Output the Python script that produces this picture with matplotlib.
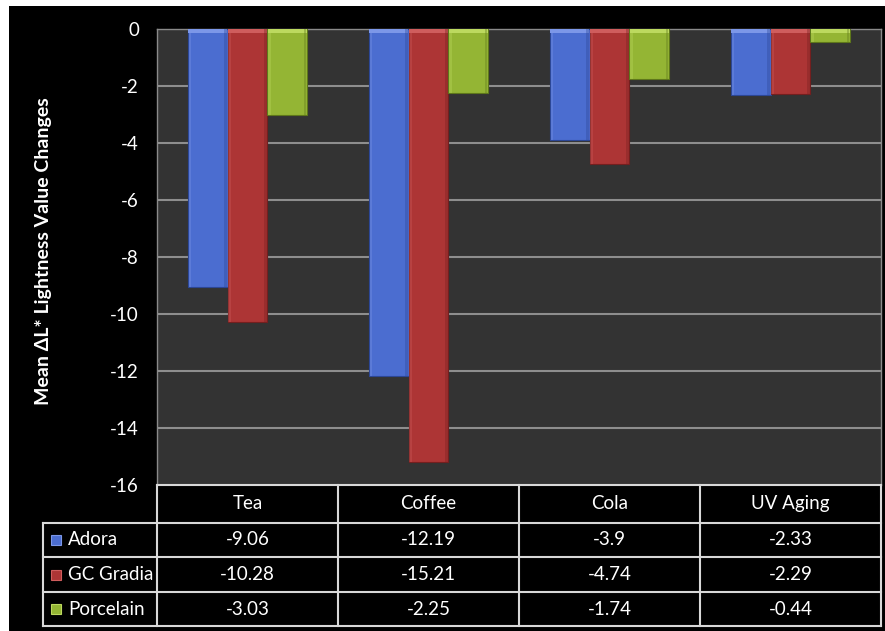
import matplotlib.pyplot as plt
import matplotlib.transforms as mtransforms
from matplotlib.patches import Rectangle
import numpy as np

categorias = ['Tea', 'Coffee', 'Cola', 'UV Aging']
series = ['Adora', 'GC Gradia', 'Porcelain']
adora = [-9.06, -12.19, -3.9, -2.33]
gc_gradia = [-10.28, -15.21, -4.74, -2.29]
porcelain = [-3.03, -2.25, -1.74, -0.44]
yticks = [0, -2, -4, -6, -8, -10, -12, -14, -16]

valores = [adora, gc_gradia, porcelain]
cores = ['#4b6dd0', '#ad3535', '#94b534']
claras = ['#7c97e8', '#cf5d5d', '#bcd95f']
escuras = ['#2c4796', '#741f1f', '#5e771b']

plt.rcParams['font.family'] = ['Lato', 'DejaVu Sans']

fig = plt.figure(figsize=(8.85, 6.31), dpi=100)
fig.patch.set_facecolor('white')
# fundo preto (com a margem branca no topo e à esquerda)
fig.add_artist(Rectangle((9/885, 0), 1 - 9/885, 1 - 6/631, transform=fig.transFigure,
                         facecolor='black', edgecolor='none', zorder=0))

ax = fig.add_axes([157/885, 146/631, 724/885, 456/631])
ax.set_facecolor('#333333')
ax.set_xlim(-0.5, 3.5)
ax.set_ylim(-16, 0)
ax.set_yticks(yticks)
ax.set_yticklabels([str(t) for t in yticks])
ax.set_xticks([])
ax.tick_params(axis='y', length=0, pad=13, colors='white', labelsize=13.5)
for s in ax.spines.values():
    s.set_color('#8a8a8a')
    s.set_linewidth(1)
ax.spines['bottom'].set_visible(False)
for t in yticks[1:-1]:
    ax.axhline(t, color='#8e8e8e', linewidth=1.5, zorder=1)

x = np.arange(len(categorias))
largura = 0.22
offsets = [-largura, 0, largura]

# barras com um "chanfro" simples em cima
for j in range(3):
    xs = x + offsets[j]
    ax.bar(xs, valores[j], largura, color=cores[j], edgecolor=escuras[j], linewidth=0.8, zorder=3)
    topo = [max(v, -0.15) for v in valores[j]]
    ax.bar(xs, topo, largura * 0.97, color=claras[j], linewidth=0, zorder=4)
    ax.bar(xs - largura * 0.45, valores[j], largura * 0.06, color=claras[j], alpha=0.35, linewidth=0, zorder=4)
    ax.bar(xs + largura * 0.45, valores[j], largura * 0.06, color=escuras[j], alpha=0.35, linewidth=0, zorder=4)

ax.set_ylabel('Mean ΔL* Lightness Value Changes', color='white', fontweight='bold', fontsize=14)
ax.yaxis.set_label_coords((52 - 157) / 724, 0.513)

# tabela de dados embaixo
trans = mtransforms.blended_transform_factory(ax.transData, ax.transAxes)
linhas_y = [0, -0.083, -0.158, -0.235, -0.309]
x_esq = -1.13
cor_linha = '#d8d8d8'
kw = dict(color=cor_linha, linewidth=1.5, transform=trans, clip_on=False, zorder=5)

ax.plot([-0.5, 3.5], [0, 0], **kw)
for yy in linhas_y[1:]:
    ax.plot([x_esq, 3.5], [yy, yy], **kw)
for xx in [-0.5, 0.5, 1.5, 2.5, 3.5]:
    ax.plot([xx, xx], [0, linhas_y[-1]], **kw)
ax.plot([x_esq, x_esq], [linhas_y[1], linhas_y[-1]], **kw)

for i, c in enumerate(categorias):
    ax.text(i, (linhas_y[0] + linhas_y[1]) / 2, c, transform=trans, ha='center', va='center',
            color='white', fontsize=13.5)
for j in range(3):
    ym = (linhas_y[j + 1] + linhas_y[j + 2]) / 2
    ax.plot([-1.058], [ym], marker='s', markersize=7, color=cores[j], markeredgecolor=claras[j],
            markeredgewidth=0.8, transform=trans, clip_on=False, zorder=6)
    ax.text(-0.99, ym, series[j], transform=trans, ha='left', va='center', color='white', fontsize=13.5)
    for i in range(len(categorias)):
        ax.text(i, ym, str(valores[j][i]), transform=trans, ha='center', va='center',
                color='white', fontsize=13.5)

fig.savefig('out.png', dpi=100, facecolor=fig.get_facecolor())
